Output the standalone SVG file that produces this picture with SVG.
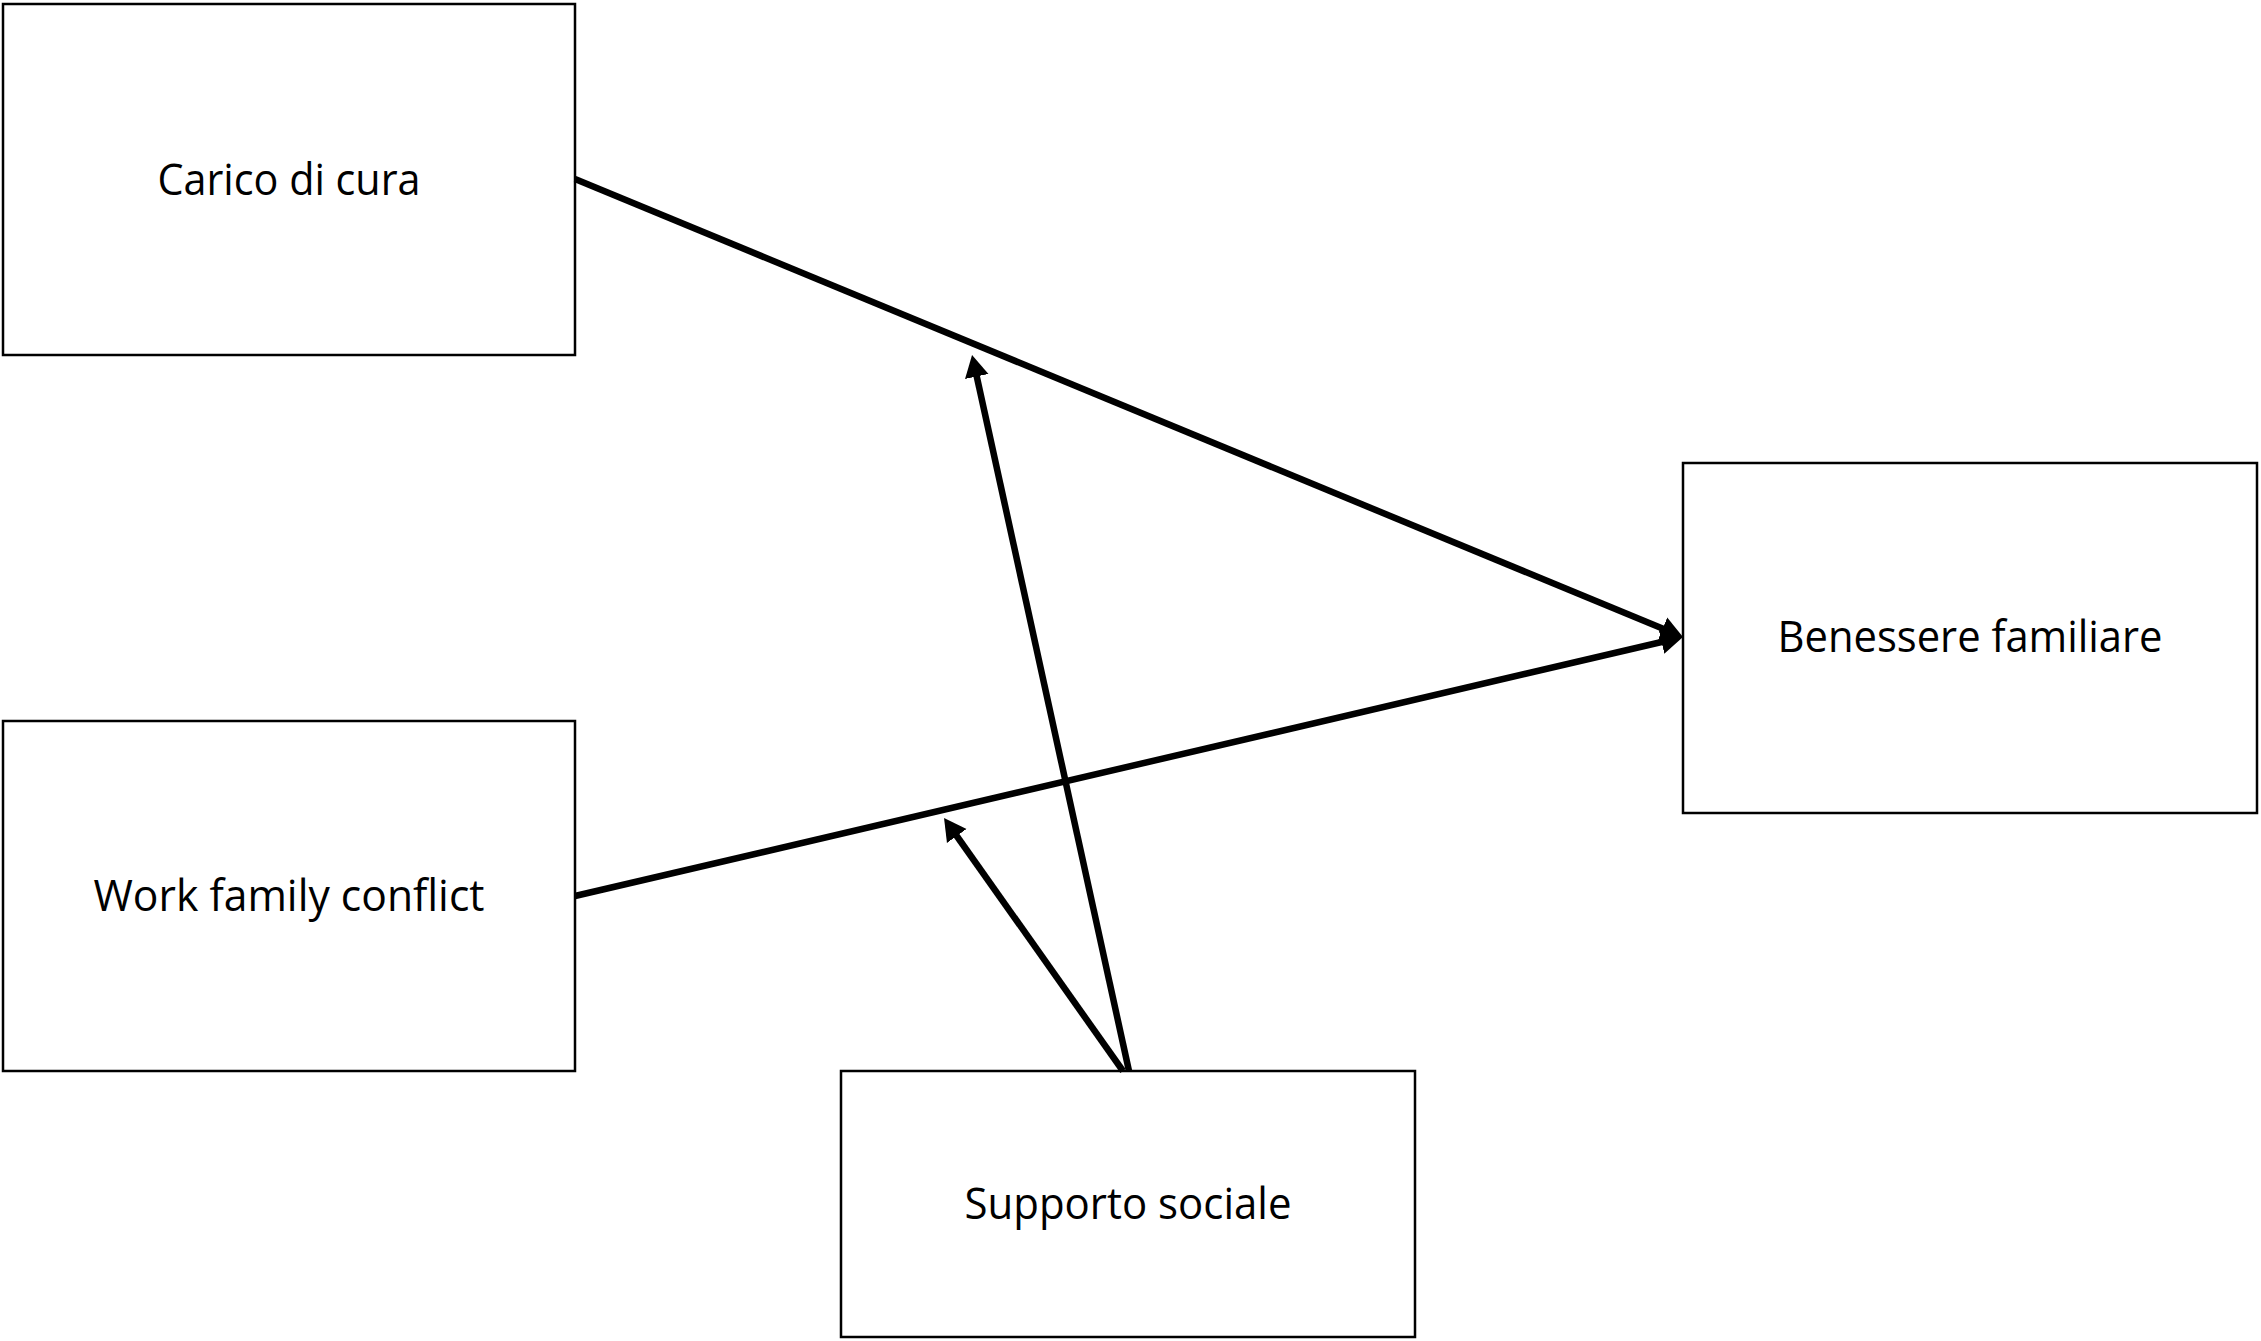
<svg xmlns="http://www.w3.org/2000/svg" width="2261" height="1341" viewBox="0 0 2261 1341">
  <style>
    .box { fill: #ffffff; stroke: #000000; stroke-width: 2.5; }
    .label { font-family: "Open Sans", "Liberation Sans", sans-serif; font-size: 43px; fill: #000000; text-anchor: middle; }
    .edge { fill: none; stroke: #000000; stroke-width: 6.5; }
  </style>
  <defs>
    <marker id="head" markerUnits="userSpaceOnUse" markerWidth="24" markerHeight="26" refX="11" refY="12" orient="auto" viewBox="0 0 24 24">
      <path d="M0,0 L22,12 L0,24 z" fill="#000000"/>
    </marker>
  </defs>
  <rect width="2261" height="1341" fill="#ffffff"/>

  <g id="node-carico">
    <rect class="box" x="3" y="4" width="572" height="351"/>
    <text class="label" x="289" y="195" textLength="263" lengthAdjust="spacingAndGlyphs">Carico di cura</text>
  </g>
  <g id="node-wfc">
    <rect class="box" x="3" y="721" width="572" height="350"/>
    <text class="label" x="289" y="911" textLength="391" lengthAdjust="spacingAndGlyphs">Work family conflict</text>
  </g>
  <g id="node-benessere">
    <rect class="box" x="1683" y="463" width="574" height="350"/>
    <text class="label" x="1970" y="652" textLength="385" lengthAdjust="spacingAndGlyphs">Benessere familiare</text>
  </g>
  <g id="node-supporto">
    <rect class="box" x="841" y="1071" width="574" height="266"/>
    <text class="label" x="1128" y="1219" textLength="327" lengthAdjust="spacingAndGlyphs">Supporto sociale</text>
  </g>

  <g id="connectors">
    <line class="edge" x1="575" y1="179" x2="1672.8" y2="632.8" marker-end="url(#head)"/>
    <line class="edge" x1="575" y1="896" x2="1672.3" y2="639.5" marker-end="url(#head)"/>
    <line class="edge" x1="1129" y1="1071" x2="974.4" y2="365.7" marker-end="url(#head)"/>
    <line class="edge" x1="1123" y1="1071" x2="950.4" y2="827.0" marker-end="url(#head)"/>
  </g>
</svg>
